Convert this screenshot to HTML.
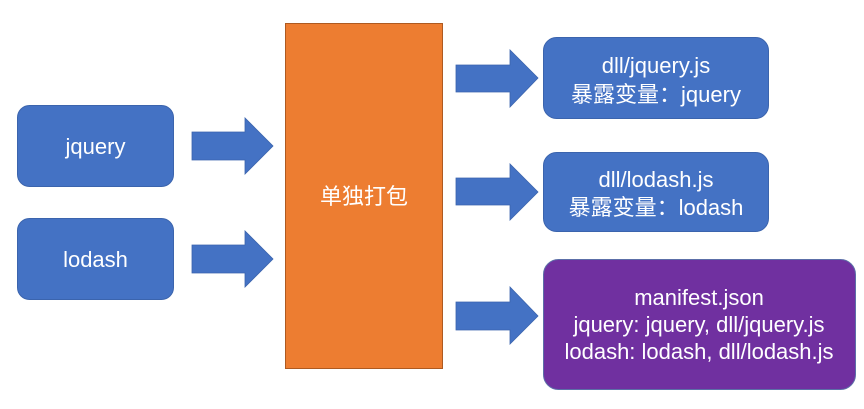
<!DOCTYPE html>
<html><head><meta charset="utf-8"><style>
html,body{margin:0;padding:0;background:#fff;}
svg{display:block;}
text{font-family:"Liberation Sans","Noto Sans CJK SC",sans-serif;fill:#fff;font-size:22px;}
</style></head><body>
<svg width="864" height="409" viewBox="0 0 864 409" xmlns="http://www.w3.org/2000/svg">
<rect width="864" height="409" fill="#fff"/>
<!-- left boxes -->
<rect x="17.5" y="105.5" width="156" height="81" rx="12" fill="#4472c4" stroke="#3b64ad" stroke-width="1"/>
<text x="95.5" y="154" text-anchor="middle">jquery</text>
<rect x="17.5" y="218.5" width="156" height="81" rx="12" fill="#4472c4" stroke="#3b64ad" stroke-width="1"/>
<text x="95.5" y="267" text-anchor="middle">lodash</text>
<!-- left arrows -->
<polygon points="192,132 245,132 245,118 273,146 245,174 245,160 192,160" fill="#4472c4" stroke="#3b64ad" stroke-width="0.8"/>
<polygon points="192,245 245,245 245,231 273,259 245,287 245,273 192,273" fill="#4472c4" stroke="#3b64ad" stroke-width="0.8"/>
<!-- orange -->
<rect x="285.5" y="23.5" width="157" height="345" fill="#ed7d31" stroke="#ae5a21" stroke-width="1"/>
<text x="364" y="204" text-anchor="middle">单独打包</text>
<!-- right arrows -->
<polygon points="456,65 510,65 510,50 538,78 510,107 510,92 456,92" fill="#4472c4" stroke="#3b64ad" stroke-width="0.8"/>
<polygon points="456,178 510,178 510,164 538,192 510,220 510,205 456,205" fill="#4472c4" stroke="#3b64ad" stroke-width="0.8"/>
<polygon points="456,302 510,302 510,287 538,316 510,344 510,330 456,330" fill="#4472c4" stroke="#3b64ad" stroke-width="0.8"/>
<!-- right boxes -->
<rect x="543.5" y="37.5" width="225" height="81" rx="13" fill="#4472c4" stroke="#3b64ad" stroke-width="1"/>
<text x="656" y="73" text-anchor="middle">dll/jquery.js</text>
<text x="656" y="102" text-anchor="middle">暴露变量：jquery</text>
<rect x="543.5" y="152.5" width="225" height="79" rx="13" fill="#4472c4" stroke="#3b64ad" stroke-width="1"/>
<text x="656" y="187" text-anchor="middle">dll/lodash.js</text>
<text x="656" y="215" text-anchor="middle">暴露变量：lodash</text>
<rect x="543.5" y="259.5" width="312" height="130" rx="15" fill="#7030a0" stroke="#5c6fa8" stroke-width="1"/>
<text x="699" y="305" text-anchor="middle">manifest.json</text>
<text x="699" y="332" text-anchor="middle">jquery: jquery, dll/jquery.js</text>
<text x="699" y="359" text-anchor="middle">lodash: lodash, dll/lodash.js</text>
</svg>
</body></html>
